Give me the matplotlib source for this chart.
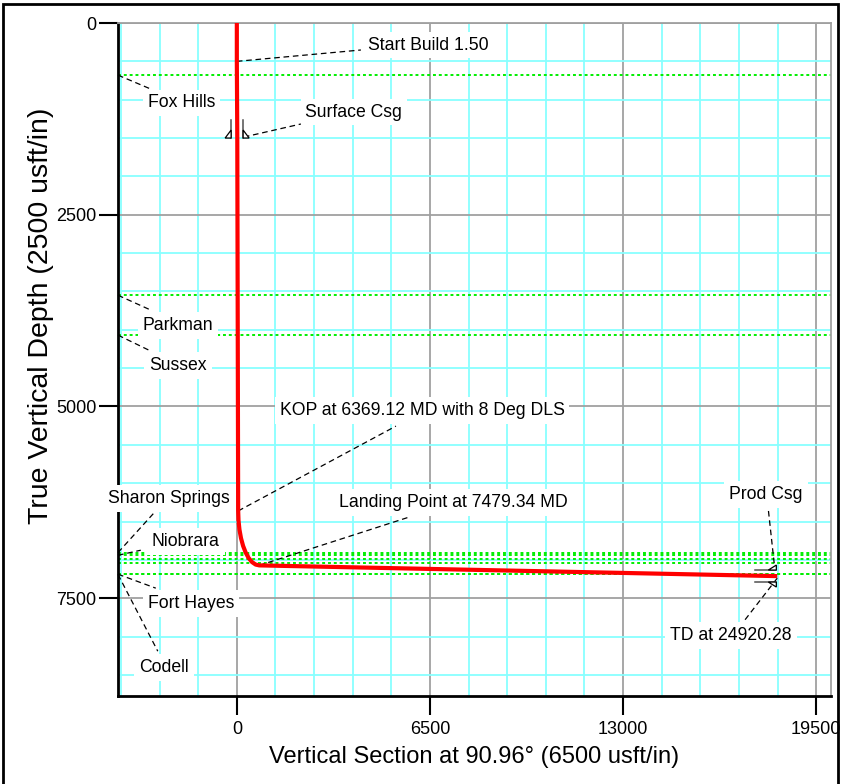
import matplotlib
matplotlib.use('Agg')
import matplotlib.pyplot as plt
from matplotlib.ticker import MultipleLocator, FixedLocator
from matplotlib.transforms import IdentityTransform
from matplotlib.patches import Polygon, Rectangle
from matplotlib.lines import Line2D

plt.rcParams['font.family'] = ['Liberation Sans', 'DejaVu Sans']

# ---------------- data ----------------
# well path (vertical section, true vertical depth)
well_vs = [0, 0, 15, 45, 56, 88, 140, 211, 299, 400, 512, 632, 755, 18190]
well_tvd = [0, 500, 1500, 6362, 6485, 6605, 6717, 6818, 6906, 6977, 7029, 7061, 7072, 7212]

# formation tops
formation_names = ['Fox Hills', 'Parkman', 'Sussex', 'Sharon Springs',
                   'Niobrara', 'Fort Hayes', 'Codell']
formation_tvd = [680, 3550, 4070, 6905, 6940, 7187, 7190]
extra_tops_tvd = [6990, 7040]

# casing points
casing_names = ['Surface Csg', 'Prod Csg']
casing_vs = [10, 18160]
casing_tvd = [1500, 7211]
casing_dir = ['vertical', 'horizontal']

# well annotations: text, index of well point
well_labels = ['Start Build 1.50', 'KOP at 6369.12 MD with 8 Deg DLS',
               'Landing Point at 7479.34 MD', 'TD at 24920.28']
well_label_idx = [1, 3, 12, 13]

x_ticks = [0, 6500, 13000, 19500]
y_ticks = [0, 2500, 5000, 7500]
x_label = 'Vertical Section at 90.96° (6500 usft/in)'
y_label = 'True Vertical Depth (2500 usft/in)'

# ---------------- layout (label positions, leader ends) ----------------
well_text_pos = [(6433, 287), (6231, 5048), (7275, 6248), (16638, 7982)]
well_leader_end = [(4176, 352), (5355, 5256), (5793, 6443), (17043, 7813)]
well_leader_start_off = [(0, 0), (0, 0), (0, 0), (0, 27)]

casing_text_pos = [(3941, 1161), (17817, 6143)]
casing_leader_start = [(236, 1487), (18087, 7043)]
casing_leader_end = [(2156, 1317), (17885, 6326)]

form_text_pos = [(-1852, 1043), (-1987, 3939), (-1987, 4461), (-2290, 6195),
                 (-1718, 6756), (-1549, 7565), (-2459, 8400)]
form_leader_end = [(-2897, 861), (-2897, 3743), (-2964, 4265), (-2796, 6391),
                   (-3233, 6874), (-2728, 7369), (-2661, 8191)]

W, H = 841, 784
fig = plt.figure(figsize=(W / 100, H / 100), dpi=100)
ax = fig.add_axes([118 / W, 88 / H, 713 / W, 673 / H])
XMIN, XMAX = -4000, 20000
ax.set_xlim(XMIN, XMAX)
ax.set_ylim(8775, 0)

# grid
ax.xaxis.set_major_locator(FixedLocator(x_ticks))
ax.yaxis.set_major_locator(FixedLocator(y_ticks))
ax.xaxis.set_minor_locator(MultipleLocator(1300))
ax.yaxis.set_minor_locator(MultipleLocator(500))
ax.grid(which='minor', color='#88ffff', lw=1.3, zorder=0)
ax.grid(which='major', color='#a0a0a0', lw=1.3, zorder=0.5)
ax.set_axisbelow(True)
ax.tick_params(which='minor', length=0)
ax.tick_params(which='major', direction='out', length=14, width=1.5,
               color='black', labelsize=13, pad=4)
ax.tick_params(axis='y', pad=1.5)

for s in ['left', 'bottom']:
    ax.spines[s].set_color('black')
    ax.spines[s].set_linewidth(2)
for s in ['top', 'right']:
    ax.spines[s].set_color('#a0a0a0')
    ax.spines[s].set_linewidth(1.3)

ax.set_xlabel(x_label, fontsize=17, labelpad=6)
ax.set_ylabel(y_label, fontsize=20.5)
ax.yaxis.set_label_coords(-0.090, 0.565)

# formation lines
for t in formation_tvd + extra_tops_tvd:
    ax.axhline(t, color='#00ee00', lw=1.4, ls=(0, (1.5, 1.5)), zorder=1)

# well path
ax.plot(well_vs, well_tvd, color='red', lw=3, zorder=4, solid_capstyle='butt')

dash = (0, (4.5, 3))
box = dict(facecolor='white', edgecolor='none', pad=3.5)
FS = 12.7

# formation labels
for name, t, tp, le in zip(formation_names, formation_tvd, form_text_pos, form_leader_end):
    ax.plot([XMIN, le[0]], [t, le[1]], color='black', lw=0.9, ls=dash, zorder=3,
            clip_on=False)
    ax.text(tp[0], tp[1], name, fontsize=FS, ha='center', va='center', bbox=box, zorder=6)

# well labels
for lab, i, tp, le, so in zip(well_labels, well_label_idx, well_text_pos,
                              well_leader_end, well_leader_start_off):
    ax.plot([well_vs[i] + so[0], le[0]], [well_tvd[i] + so[1], le[1]], color='black',
            lw=0.9, ls=dash, zorder=3)
    ax.text(tp[0], tp[1], lab, fontsize=FS, ha='center', va='center', bbox=box, zorder=6)

# casing labels
for name, tp, ls_, le in zip(casing_names, casing_text_pos, casing_leader_start, casing_leader_end):
    ax.plot([ls_[0], le[0]], [ls_[1], le[1]], color='black', lw=0.9, ls=dash, zorder=3)
    ax.text(tp[0], tp[1], name, fontsize=FS, ha='center', va='center', bbox=box, zorder=6)

# casing shoe symbols (drawn in pixel offsets around the data point)
for cx, cy, d in zip(casing_vs, casing_tvd, casing_dir):
    px, py = ax.transData.transform((cx, cy))
    for s in (-1, 1):
        if d == 'vertical':
            line = [(px + 6 * s, py), (px + 6 * s, py + 18)]
            tri = [(px + 6 * s, py), (px + 12 * s, py), (px + 6 * s, py + 8)]
        else:
            line = [(px, py + 6 * s), (px - 21, py + 6 * s)]
            tri = [(px, py + 6 * s), (px, py + 11 * s), (px - 8, py + 6 * s)]
        xs, ys = zip(*line)
        fig.add_artist(Line2D(xs, ys, transform=IdentityTransform(), color='#505050', lw=1.1,
                              zorder=7))
        fig.add_artist(Polygon(tri, closed=True, transform=IdentityTransform(),
                               facecolor='white', edgecolor='black', lw=0.9, zorder=7))

# figure border
fig.add_artist(Rectangle((3 / W, -0.01), 835 / W, 1.01 - 4 / H, transform=fig.transFigure,
                         fill=False, edgecolor='black', lw=2))

fig.savefig('out.png', dpi=100)
